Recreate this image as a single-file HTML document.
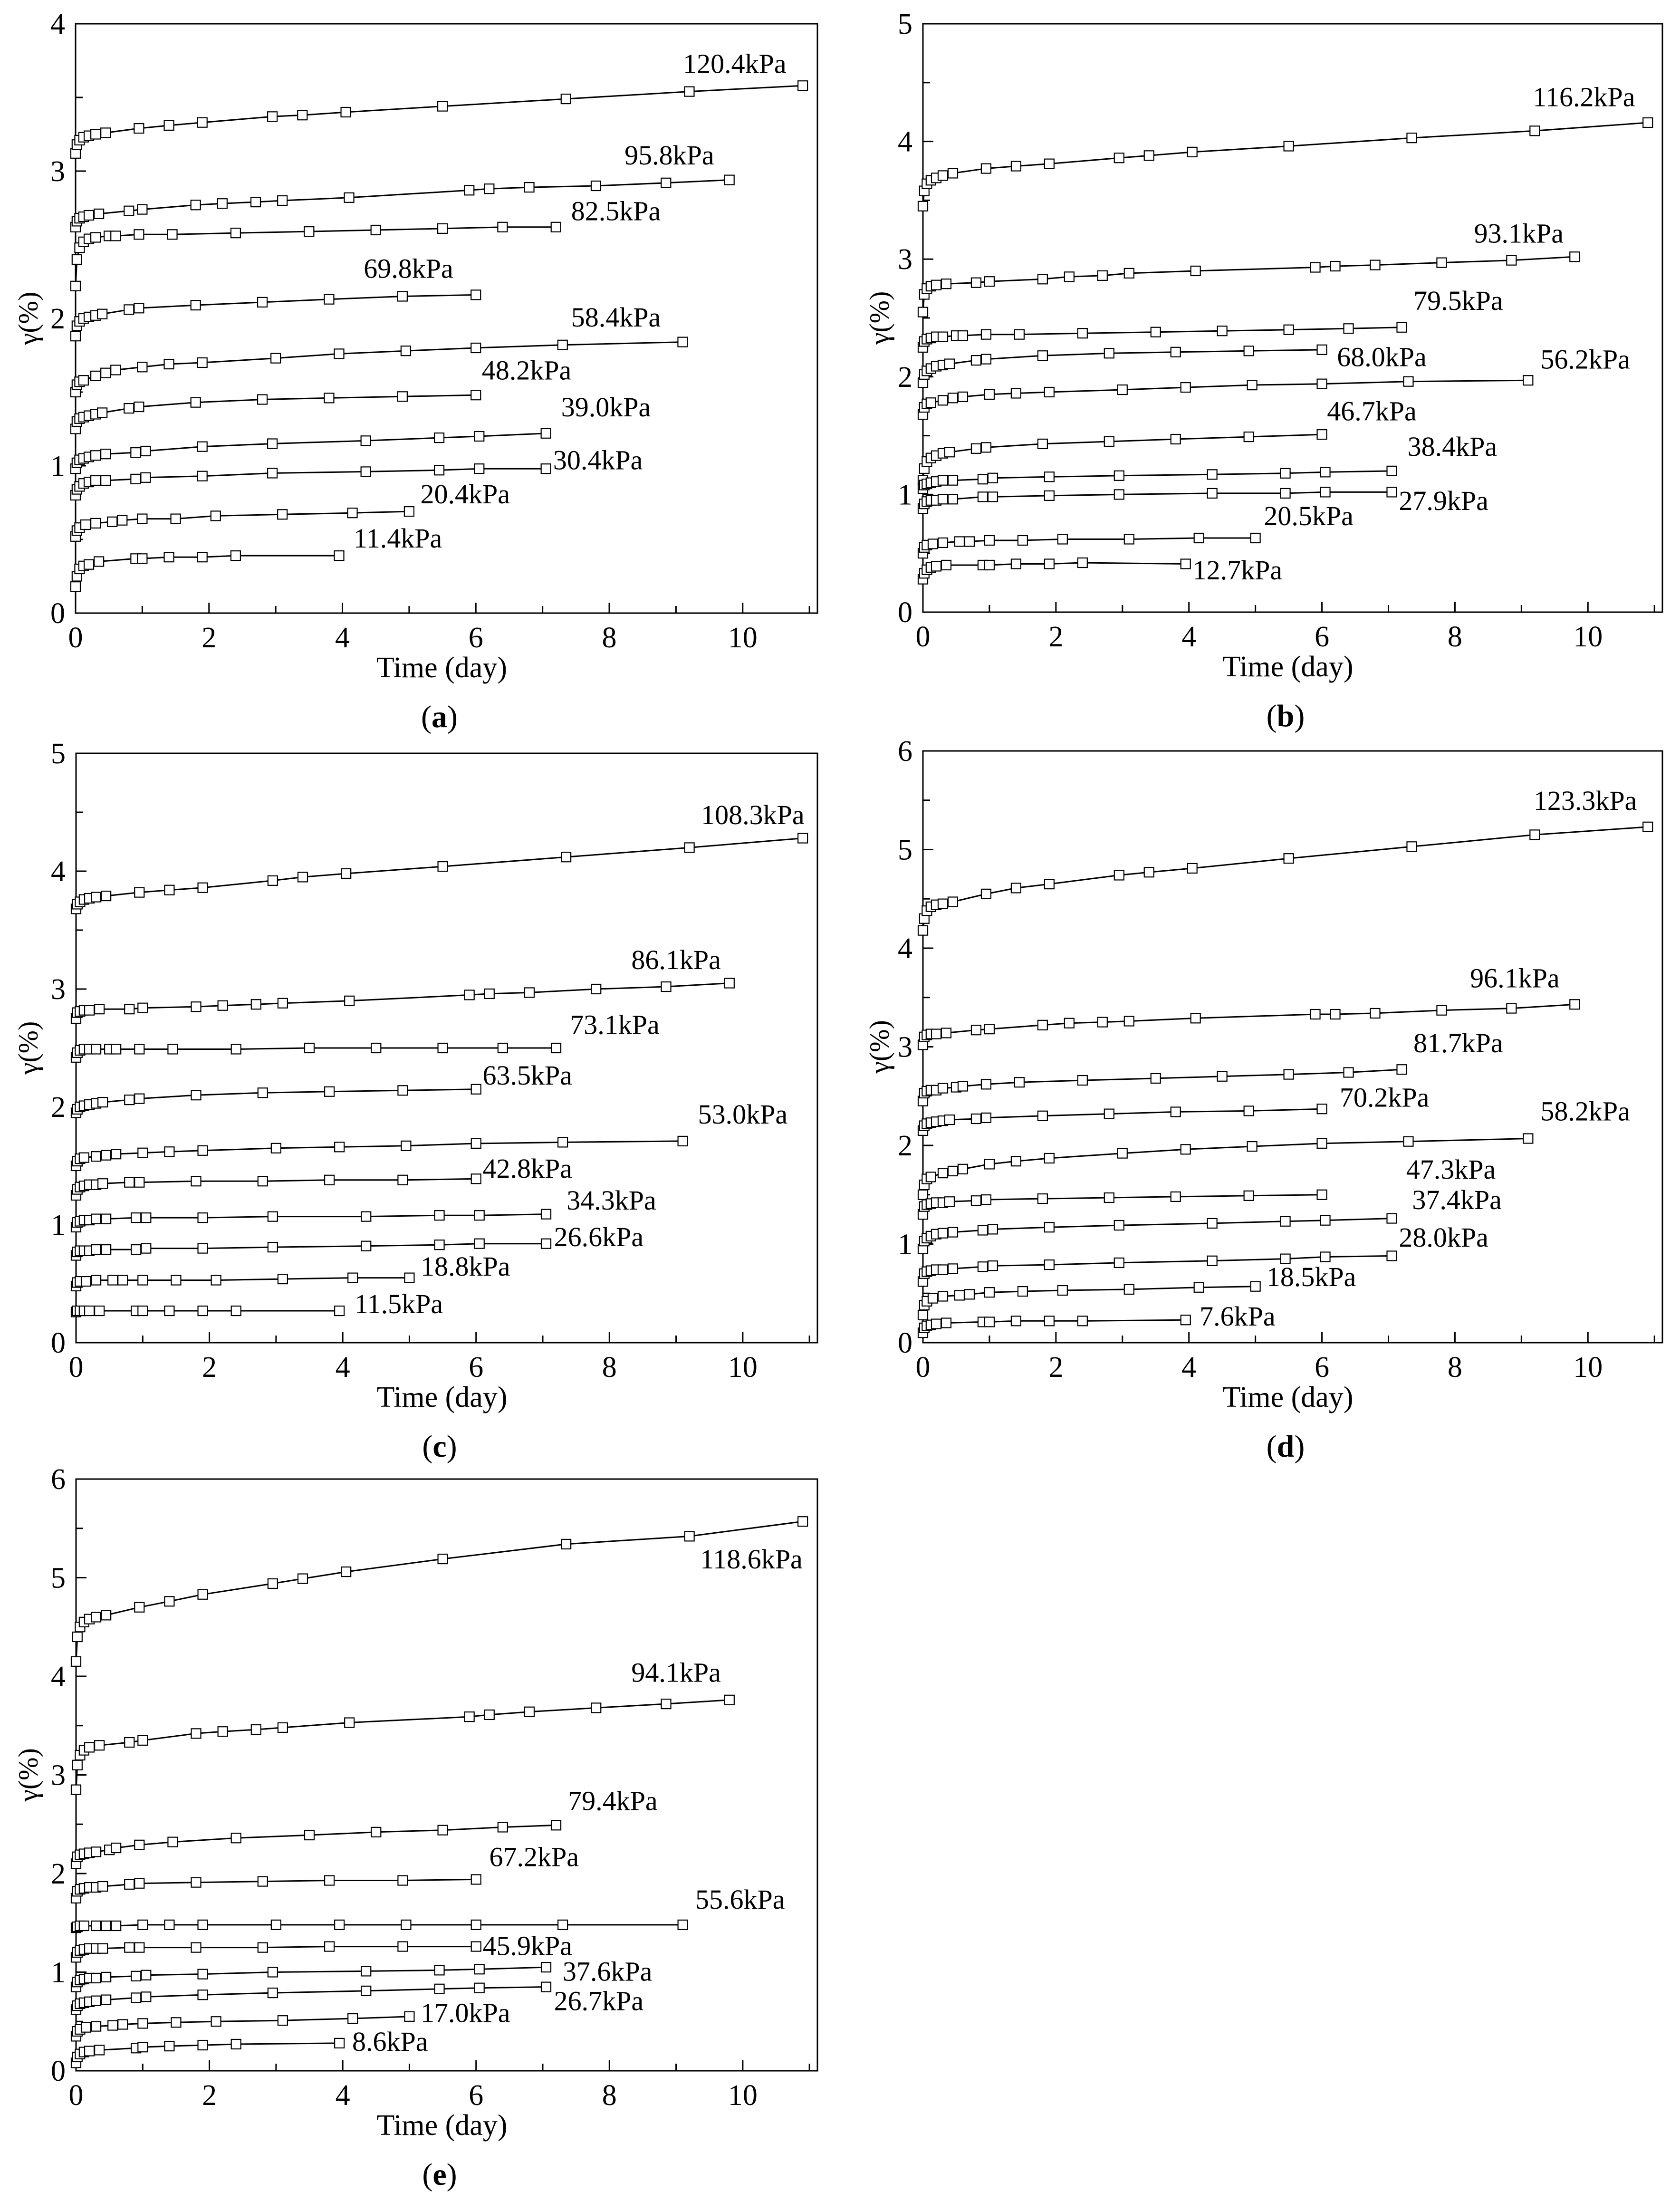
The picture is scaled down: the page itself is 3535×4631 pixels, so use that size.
<!DOCTYPE html>
<html><head><meta charset="utf-8"><style>
html,body{margin:0;padding:0;background:#fff;}
svg{display:block;font-family:"Liberation Serif","Times New Roman",serif;}
</style></head><body>
<svg id="fig" width="3535" height="4631" viewBox="0 0 3535 4631" xmlns="http://www.w3.org/2000/svg" font-family="Liberation Serif, serif"></svg>
<script>
// shared time arrays (days)
const T109=[0,0.02,0.06,0.12,0.2,0.3,0.45,0.95,1.4,1.9,2.95,3.4,4.05,5.5,7.35,9.2,10.9];
const T98=[0,0.02,0.06,0.12,0.2,0.35,0.8,1,1.8,2.2,2.7,3.1,4.1,5.9,6.2,6.8,7.8,8.85,9.8];
const T72=[0,0.02,0.06,0.12,0.2,0.3,0.5,0.6,0.95,1.45,2.4,3.5,4.5,5.5,6.4,7.2];
const T6=[0,0.02,0.06,0.12,0.2,0.3,0.4,0.8,0.95,1.8,2.8,3.8,4.9,6];
const T91=[0,0.02,0.06,0.12,0.3,0.45,0.6,1,1.4,1.9,3,3.95,4.95,6,7.3,9.1];
const T7=[0,0.02,0.06,0.12,0.2,0.3,0.45,0.9,1.05,1.9,2.95,4.35,5.45,6.05,7.05];
const T5=[0,0.02,0.06,0.15,0.3,0.55,0.7,1,1.5,2.1,3.1,4.15,5];
const T4=[0,0.02,0.06,0.12,0.2,0.35,0.9,1,1.4,1.9,2.4,3.95];
const xTicks=[0,2,4,6,8,10];

// Panel (a)
const aLabels=["120.4kPa","95.8kPa","82.5kPa","69.8kPa","58.4kPa","48.2kPa","39.0kPa","30.4kPa","20.4kPa","11.4kPa"];
const aTimes=[T109,T98,T72,T6,T91,T6,T7,T7,T5,T4];
const aValues=[
[3.12,3.18,3.21,3.23,3.24,3.25,3.26,3.29,3.31,3.33,3.37,3.38,3.40,3.44,3.49,3.54,3.58],
[2.62,2.66,2.68,2.69,2.70,2.71,2.73,2.74,2.77,2.78,2.79,2.80,2.82,2.87,2.88,2.89,2.90,2.92,2.94],
[2.22,2.40,2.48,2.52,2.54,2.55,2.56,2.56,2.57,2.57,2.58,2.59,2.60,2.61,2.62,2.62],
[1.88,1.95,1.98,2.00,2.01,2.02,2.03,2.06,2.07,2.09,2.11,2.13,2.15,2.16],
[1.50,1.55,1.57,1.58,1.61,1.63,1.65,1.67,1.69,1.70,1.73,1.76,1.78,1.80,1.82,1.84],
[1.25,1.30,1.32,1.33,1.34,1.35,1.36,1.39,1.40,1.43,1.45,1.46,1.47,1.48],
[0.98,1.02,1.04,1.05,1.06,1.07,1.08,1.09,1.10,1.13,1.15,1.17,1.19,1.20,1.22],
[0.80,0.84,0.86,0.88,0.89,0.90,0.90,0.91,0.92,0.93,0.95,0.96,0.97,0.98,0.98],
[0.52,0.56,0.58,0.60,0.61,0.62,0.63,0.64,0.64,0.66,0.67,0.68,0.69],
[0.18,0.25,0.30,0.32,0.33,0.35,0.37,0.37,0.38,0.38,0.39,0.39]];
const aLabelX=[9.88,8.9,8.1,4.99,8.1,6.76,7.95,7.83,5.84,4.83];
const aLabelY=[3.73,3.11,2.73,2.34,2.01,1.65,1.40,1.04,0.81,0.51];

// Panel (b)
const bLabels=["116.2kPa","93.1kPa","79.5kPa","68.0kPa","56.2kPa","46.7kPa","38.4kPa","27.9kPa","20.5kPa","12.7kPa"];
const bTimes=[T109,T98,T72,T6,T91,T6,T7,T7,T5,T4];
const bValues=[
[3.45,3.58,3.64,3.67,3.69,3.71,3.73,3.77,3.79,3.81,3.86,3.88,3.91,3.96,4.03,4.09,4.16],
[2.55,2.70,2.75,2.77,2.78,2.79,2.80,2.81,2.83,2.85,2.86,2.88,2.90,2.93,2.94,2.95,2.97,2.99,3.02],
[2.25,2.30,2.32,2.33,2.34,2.34,2.35,2.35,2.36,2.36,2.37,2.38,2.39,2.40,2.41,2.42],
[1.95,2.02,2.05,2.07,2.09,2.10,2.11,2.14,2.15,2.18,2.20,2.21,2.22,2.23],
[1.68,1.74,1.77,1.78,1.80,1.82,1.83,1.85,1.86,1.87,1.89,1.91,1.93,1.94,1.96,1.97],
[1.12,1.22,1.28,1.31,1.33,1.35,1.36,1.39,1.40,1.43,1.45,1.47,1.49,1.51],
[1.05,1.08,1.09,1.10,1.11,1.12,1.12,1.13,1.14,1.15,1.16,1.17,1.18,1.19,1.20],
[0.88,0.92,0.94,0.95,0.95,0.96,0.96,0.98,0.98,0.99,1.00,1.01,1.01,1.02,1.02],
[0.50,0.55,0.57,0.58,0.59,0.60,0.60,0.61,0.61,0.62,0.62,0.63,0.63],
[0.28,0.33,0.36,0.38,0.39,0.40,0.40,0.40,0.41,0.41,0.42,0.41]];
const bLabelX=[9.94,8.96,8.05,6.9,9.96,6.75,7.96,7.83,5.8,4.73];
const bLabelY=[4.38,3.22,2.65,2.17,2.15,1.71,1.41,0.95,0.82,0.36];

// Panel (c)
const cLabels=["108.3kPa","86.1kPa","73.1kPa","63.5kPa","53.0kPa","42.8kPa","34.3kPa","26.6kPa","18.8kPa","11.5kPa"];
const cTimes=[T109,T98,T72,T6,T91,T6,T7,T7,T5,T4];
const cValues=[
[3.68,3.72,3.74,3.76,3.77,3.78,3.79,3.82,3.84,3.86,3.92,3.95,3.98,4.04,4.12,4.20,4.28],
[2.75,2.80,2.81,2.82,2.82,2.83,2.83,2.84,2.85,2.86,2.87,2.88,2.90,2.95,2.96,2.97,3.00,3.02,3.05],
[2.42,2.46,2.48,2.49,2.49,2.49,2.49,2.49,2.49,2.49,2.49,2.50,2.50,2.50,2.50,2.50],
[1.95,1.98,2.00,2.01,2.02,2.03,2.04,2.06,2.07,2.10,2.12,2.13,2.14,2.15],
[1.50,1.54,1.56,1.57,1.58,1.59,1.60,1.61,1.62,1.63,1.65,1.66,1.67,1.69,1.70,1.71],
[1.25,1.30,1.32,1.33,1.34,1.34,1.35,1.36,1.36,1.37,1.37,1.38,1.38,1.39],
[0.98,1.02,1.03,1.04,1.04,1.05,1.05,1.06,1.06,1.06,1.07,1.07,1.08,1.08,1.09],
[0.74,0.77,0.78,0.78,0.78,0.79,0.79,0.79,0.80,0.80,0.81,0.82,0.83,0.84,0.84],
[0.48,0.51,0.52,0.52,0.53,0.53,0.53,0.53,0.53,0.53,0.54,0.55,0.55],
[0.26,0.27,0.27,0.27,0.27,0.27,0.27,0.27,0.27,0.27,0.27,0.27]];
const cLabelX=[10.15,9.0,8.08,6.77,10.0,6.77,8.03,7.84,5.84,4.84];
const cLabelY=[4.48,3.25,2.70,2.27,1.94,1.48,1.21,0.90,0.65,0.33];

// Panel (d)
const dLabels=["123.3kPa","96.1kPa","81.7kPa","70.2kPa","58.2kPa","47.3kPa","37.4kPa","28.0kPa","18.5kPa","7.6kPa"];
const dTimes=[T109,T98,T72,T6,T91,T6,T7,T7,T5,T4];
const dValues=[
[4.18,4.30,4.38,4.42,4.44,4.45,4.47,4.55,4.61,4.65,4.74,4.77,4.81,4.91,5.03,5.15,5.23],
[3.02,3.10,3.12,3.13,3.13,3.14,3.17,3.18,3.22,3.24,3.25,3.26,3.29,3.33,3.33,3.34,3.37,3.39,3.43],
[2.45,2.53,2.55,2.56,2.56,2.58,2.59,2.60,2.62,2.64,2.66,2.68,2.70,2.72,2.74,2.77],
[2.15,2.20,2.22,2.23,2.24,2.25,2.26,2.27,2.28,2.30,2.32,2.34,2.35,2.37],
[1.50,1.60,1.66,1.68,1.72,1.74,1.76,1.81,1.84,1.87,1.92,1.96,1.99,2.02,2.04,2.07],
[1.30,1.38,1.40,1.41,1.42,1.42,1.43,1.44,1.45,1.46,1.47,1.48,1.49,1.50],
[0.95,1.03,1.06,1.08,1.10,1.11,1.12,1.14,1.15,1.17,1.19,1.21,1.23,1.24,1.26],
[0.62,0.70,0.72,0.73,0.74,0.74,0.75,0.77,0.78,0.79,0.81,0.83,0.85,0.87,0.88],
[0.28,0.38,0.42,0.45,0.47,0.48,0.49,0.51,0.52,0.53,0.54,0.56,0.57],
[0.10,0.15,0.17,0.18,0.19,0.20,0.21,0.21,0.22,0.22,0.22,0.23]];
const dLabelX=[9.96,8.9,8.05,6.94,9.96,7.94,8.03,7.83,5.84,4.73];
const dLabelY=[5.50,3.70,3.04,2.49,2.35,1.76,1.45,1.07,0.67,0.27];

// Panel (e)
const eLabels=["118.6kPa","94.1kPa","79.4kPa","67.2kPa","55.6kPa","45.9kPa","37.6kPa","26.7kPa","17.0kPa","8.6kPa"];
const eTimes=[T109,T98,T72,T6,T91,T6,T7,T7,T5,T4];
const eValues=[
[4.15,4.40,4.50,4.55,4.58,4.60,4.62,4.70,4.76,4.83,4.94,4.99,5.06,5.19,5.34,5.42,5.57],
[2.85,3.10,3.20,3.25,3.28,3.30,3.33,3.35,3.42,3.44,3.46,3.48,3.53,3.59,3.61,3.64,3.68,3.72,3.76],
[2.10,2.17,2.19,2.20,2.21,2.22,2.24,2.26,2.29,2.32,2.36,2.39,2.42,2.44,2.47,2.49],
[1.75,1.82,1.84,1.85,1.86,1.86,1.87,1.89,1.90,1.91,1.92,1.93,1.93,1.94],
[1.45,1.46,1.47,1.47,1.47,1.47,1.47,1.48,1.48,1.48,1.48,1.48,1.48,1.48,1.48,1.48],
[1.15,1.20,1.22,1.23,1.24,1.24,1.24,1.25,1.25,1.25,1.25,1.26,1.26,1.26],
[0.85,0.90,0.92,0.93,0.94,0.94,0.95,0.96,0.97,0.98,1.00,1.01,1.02,1.03,1.05],
[0.62,0.66,0.68,0.69,0.70,0.71,0.72,0.74,0.75,0.77,0.79,0.81,0.83,0.84,0.85],
[0.35,0.40,0.42,0.44,0.45,0.46,0.47,0.48,0.49,0.50,0.51,0.53,0.55],
[0.08,0.14,0.17,0.19,0.20,0.21,0.23,0.24,0.25,0.26,0.27,0.28]];
const eLabelX=[10.13,9.0,8.05,6.87,9.96,6.77,7.97,7.84,5.84,4.71];
const eLabelY=[5.19,4.04,2.74,2.17,1.74,1.27,1.01,0.71,0.59,0.30];

const NS="http://www.w3.org/2000/svg";
const svg=document.getElementById('fig');
const FF='"Liberation Serif", "Times New Roman", serif';
function mk(tag,attrs,parent){const e=document.createElementNS(NS,tag);for(const k in attrs)e.setAttribute(k,attrs[k]);if(tag==='text')e.setAttribute('font-family',FF);(parent||svg).appendChild(e);return e;}

const panels=[
 {id:'a',L:159,R:1720,T:50,B:1290,ymax:4,labels:aLabels,times:aTimes,vals:aValues,lx:aLabelX,ly:aLabelY,ylabx:65},
 {id:'b',L:1942,R:3498,T:50,B:1288,ymax:5,labels:bLabels,times:bTimes,vals:bValues,lx:bLabelX,ly:bLabelY,ylabx:1856},
 {id:'c',L:160,R:1720,T:1585,B:2825,ymax:5,labels:cLabels,times:cTimes,vals:cValues,lx:cLabelX,ly:cLabelY,ylabx:65},
 {id:'d',L:1942,R:3498,T:1580,B:2825,ymax:6,labels:dLabels,times:dTimes,vals:dValues,lx:dLabelX,ly:dLabelY,ylabx:1856},
 {id:'e',L:160,R:1720,T:3112,B:4357,ymax:6,labels:eLabels,times:eTimes,vals:eValues,lx:eLabelX,ly:eLabelY,ylabx:65}
];

panels.forEach(p=>{
  const pxPerDay=(p.R-p.L)/11.12;
  const xs=t=>p.L+t*pxPerDay;
  const ys=v=>p.B-v*(p.B-p.T)/p.ymax;
  const g=mk('g',{});
  
  
  const frame=mk('rect',{x:p.L,y:p.T,width:p.R-p.L,height:p.B-p.T,fill:'none',stroke:'#000','stroke-width':3},g);
  
  
  for(let t=0;t<=11;t++){
    const x=xs(t);const len=(t%2===0)?22:15;
    const tk=mk('line',{x1:x,x2:x,y1:p.B,y2:p.B-len,stroke:'#000','stroke-width':3},g);
    
    
  }
  xTicks.forEach(t=>{
    const tl=mk('text',{x:xs(t),y:p.B+72,'font-size':62,'text-anchor':'middle'},g);
    tl.textContent=t;
    
    
  });
  for(let k=0;k<=p.ymax*2;k++){
    const v=k/2;const y=ys(v);const len=(k%2===0)?22:15;
    const tk=mk('line',{x1:p.L,x2:p.L+len,y1:y,y2:y,stroke:'#000','stroke-width':3},g);
    
    
    if(k%2===0){
      const tl=mk('text',{x:p.L-22,y:y+21,'font-size':62,'text-anchor':'end'},g);
      tl.textContent=v;
      
      
    }
  }
  const xt=mk('text',{x:(p.L+p.R)/2-10,y:p.B+135,'font-size':62,'text-anchor':'middle'},g);
  xt.textContent='Time (day)';
  
  
  const yc=(p.T+p.B)/2;
  const yt=mk('text',{x:p.ylabx,y:yc,'font-size':58,'text-anchor':'middle',transform:'rotate(-90 '+p.ylabx+' '+yc+')','dominant-baseline':'middle'},g);
  yt.textContent='γ(%)';
  
  
  const cap=mk('text',{x:(p.L+p.R)/2-15,y:p.B+240,'font-size':66,'text-anchor':'middle'},g);
  cap.innerHTML='(<tspan font-weight="bold">'+p.id+'</tspan>)';
  
  
  p.vals.forEach((vals,i)=>{
    const ts=p.times[i];
    const sg=mk('g',{},g);
    
    
    const pts=vals.map((v,j)=>xs(ts[j]).toFixed(1)+','+ys(v).toFixed(1)).join(' ');
    const pl=mk('polyline',{points:pts,fill:'none',stroke:'#000','stroke-width':3},sg);
    
    
    vals.forEach((v,j)=>{
      const m=mk('rect',{x:xs(ts[j])-10,y:ys(v)-10,width:20,height:20,fill:'#fff',stroke:'#000','stroke-width':2.2},sg);
      
      
    });
    const lb=mk('text',{x:xs(p.lx[i]),y:ys(p.ly[i])+20,'font-size':58,'text-anchor':'middle'},sg);
    lb.textContent=p.labels[i];
    
    
  });
});
</script>
</body></html>
